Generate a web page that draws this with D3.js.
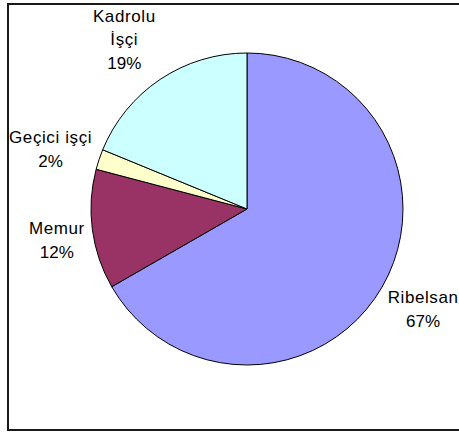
<!DOCTYPE html>
<html>
<head>
<meta charset="utf-8">
<script src="https://cdn.jsdelivr.net/npm/d3@7"></script>
<style>
  html, body { margin: 0; padding: 0; background: #fff; }
  svg { display: block; }
</style>
</head>
<body>
<script>
// Data
const categories = ["Ribelsan", "Memur", "Geçici işçi", "Kadrolu\nİşçi"];
const values = [66.7, 12.4, 2.1, 18.8];
const colors = ["#9999FF", "#993366", "#FFFFCC", "#CCFFFF"];

// Layout
const W = 459, H = 432;
const cx = 247, cy = 209, R = 156;
const fontSize = 17, lineH = 23.5, gap = 5;
const labelNudge = [[0, -2], [0, 6], [-2, 6], [-7, 3]];

const svg = d3.select("body").append("svg").attr("width", W).attr("height", H);

// chart frame
svg.append("rect")
  .attr("x", 8).attr("y", 4).attr("width", 470).attr("height", 426)
  .attr("fill", "none").attr("stroke", "#1a1a1a").attr("stroke-width", 2);

const total = d3.sum(values);
const pie = d3.pie().sort(null).value(d => d)(values);
const arc = d3.arc().innerRadius(0).outerRadius(R);

const g = svg.append("g").attr("transform", `translate(${cx},${cy})`);
g.selectAll("path").data(pie).join("path")
  .attr("d", arc)
  .attr("fill", (d, i) => colors[i])
  .attr("stroke", "#000").attr("stroke-width", 1).attr("stroke-linejoin", "round");

// labels
pie.forEach((d, i) => {
  const names = categories[i].split("\n");
  const lines = names.concat([Math.round(d.value / total * 100) + "%"]);
  const t = svg.append("text")
    .attr("font-family", "Arial, 'Liberation Sans', sans-serif")
    .attr("font-size", fontSize)
    .attr("fill", "#000")
    .attr("text-anchor", "middle");
  const tspans = lines.map((l, k) => t.append("tspan").text(l)
    .attr("letter-spacing", k < names.length ? 0.6 : 0));
  const w = d3.max(tspans, s => s.node().getComputedTextLength());
  const h = lines.length * lineH;
  const a = (d.startAngle + d.endAngle) / 2;
  const ux = Math.sin(a), uy = -Math.cos(a);
  const dist = R + gap + (w / 2) * Math.abs(ux) + (h / 2) * Math.abs(uy);
  let x = cx + dist * ux + labelNudge[i][0], y = cy + dist * uy + labelNudge[i][1];
  x = Math.max(9 + w / 2, Math.min(W + 20 - w / 2, x));
  const y0 = y - (lines.length - 1) * lineH / 2 + fontSize * 0.35;
  tspans.forEach((s, k) => s.attr("x", x).attr("y", y0 + k * lineH));
});
</script>
</body>
</html>
